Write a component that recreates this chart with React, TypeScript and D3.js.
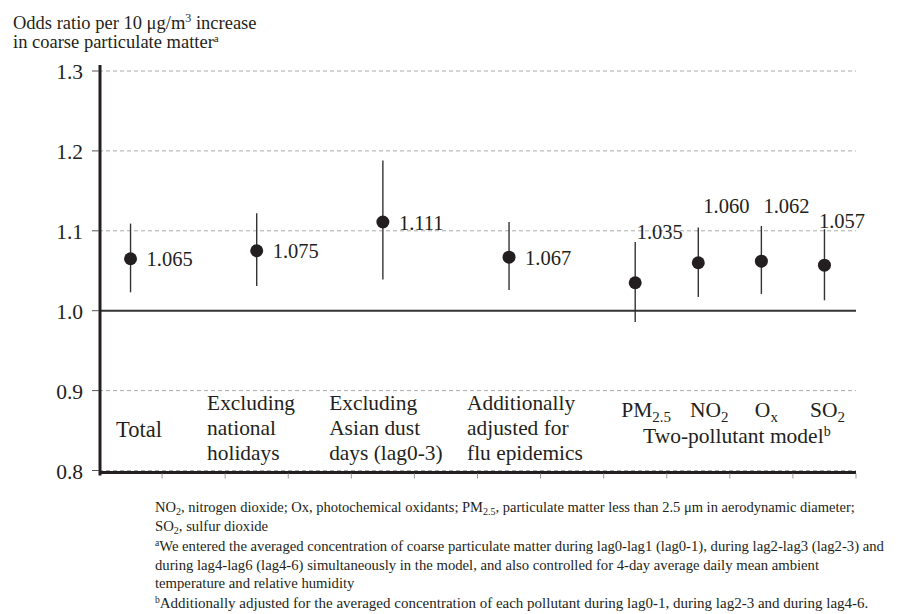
import React from 'react';
import * as d3 from 'd3';

// values
const categories = [
  'Total',
  'Excluding national holidays',
  'Excluding Asian dust days (lag0-3)',
  'Additionally adjusted for flu epidemics',
  'PM2.5',
  'NO2',
  'Ox',
  'SO2',
];
const oddsRatio = [1.065, 1.075, 1.111, 1.067, 1.035, 1.06, 1.062, 1.057];
const ciLower = [1.023, 1.031, 1.039, 1.026, 0.986, 1.017, 1.021, 1.013];
const ciUpper = [1.109, 1.122, 1.188, 1.111, 1.086, 1.104, 1.106, 1.102];
const valueLabels = ['1.065', '1.075', '1.111', '1.067', '1.035', '1.060', '1.062', '1.057'];
const yTicks = [0.8, 0.9, 1.0, 1.1, 1.2, 1.3];

// layout: which of the 12 slots each estimate sits in
const slotCount = 12;
const slotOf = [0, 2, 4, 6, 8, 9, 10, 11];
// value label offsets from the point
const labelOffset: [number, number][] = [
  [16, 7.5], [16, 7.5], [16, 7.5], [16, 7.5],
  [1.5, -43.5], [5, -49.5], [2, -48], [-5.5, -37],
];
// multi-line category labels (first four), left-aligned
const catLines = [
  ['Total'],
  ['Excluding', 'national', 'holidays'],
  ['Excluding', 'Asian dust', 'days (lag0-3)'],
  ['Additionally', 'adjusted for', 'flu epidemics'],
];
const catDx = [-14.5, -49.6, -53.7, -42];
const pollutants: [string, string][] = [['PM', '2.5'], ['NO', '2'], ['O', 'x'], ['SO', '2']];
const pollDx = [11, 11, 5, 3];

const FONT = '"Liberation Serif", "Times New Roman", serif';
const INK = '#231f20';

const App: React.FC = () => {
  const width = 897;
  const height = 614;
  const x0 = 99;
  const x1 = 856;

  const y = d3.scaleLinear().domain([0.8, 1.3]).range([470.5, 71]);
  const x = d3.scaleBand<number>()
    .domain(d3.range(slotCount))
    .range([x0, x1])
    .padding(0);
  const cx = (i: number) => (x(slotOf[i]) || 0) + x.bandwidth() / 2;
  const bounds = d3.range(1, slotCount + 1).map(k => x0 + k * x.bandwidth());

  return (
    <svg width={width} height={height}
      style={{ position: 'absolute', left: 0, top: 0, background: '#fff', fontFamily: FONT }}>
      {/* y title */}
      <text x={13} y={29} fontSize={18.5} fill={INK}>
        Odds ratio per 10 μg/m<tspan dy={-7} fontSize={12}>3</tspan><tspan dy={7}> increase</tspan>
      </text>
      <text x={13} y={48} fontSize={18.5} fill={INK}>
        in coarse particulate matter<tspan dy={-6} fontSize={11}>a</tspan>
      </text>

      {/* gridlines */}
      {yTicks.filter(t => t !== 1.0).map(t => (
        <line key={t} x1={x0} x2={x1} y1={y(t)} y2={y(t)}
          stroke="#aaa" strokeWidth={1} strokeDasharray="4,3" />
      ))}
      <line x1={x0} x2={x1} y1={y(1.0)} y2={y(1.0)} stroke="#333" strokeWidth={2} />
      <line x1={x0} x2={x1} y1={y(0.8) + 2} y2={y(0.8) + 2} stroke={INK} strokeWidth={3} />

      {/* bottom ticks */}
      {bounds.map((b, k) => (
        <line key={k} x1={b} x2={b} y1={y(0.8) + 3} y2={y(0.8) + 8} stroke="#999" strokeWidth={1} />
      ))}

      {/* y axis */}
      <line x1={x0 + 1} x2={x0 + 1} y1={y(1.3) - 6} y2={y(0.8) + 5} stroke={INK} strokeWidth={3} />
      {yTicks.map(t => (
        <g key={t}>
          <line x1={92} x2={x0} y1={y(t)} y2={y(t)} stroke="#555" strokeWidth={1} />
          <text x={83} y={y(t) + 8} fontSize={21.5} textAnchor="end" fill={INK}>{t.toFixed(1)}</text>
        </g>
      ))}

      {/* estimates with confidence intervals */}
      {categories.map((c, i) => (
        <g key={c}>
          <line x1={cx(i)} x2={cx(i)} y1={y(ciLower[i])} y2={y(ciUpper[i])}
            stroke="#333" strokeWidth={1.4} />
          <circle cx={cx(i)} cy={y(oddsRatio[i])} r={6.5} fill={INK} />
          <text x={cx(i) + labelOffset[i][0]} y={y(oddsRatio[i]) + labelOffset[i][1]}
            fontSize={20.5} fill={INK}>{valueLabels[i]}</text>
        </g>
      ))}

      {/* category labels */}
      {catLines.map((lines, i) => (
        <text key={i} x={cx(i) + catDx[i]} fontSize={lines.length === 1 ? 22.5 : 21.4} fill={INK}>
          {lines.map((l, j) => (
            <tspan key={j} x={cx(i) + catDx[i]}
              y={lines.length === 1 ? 437 : 409.5 + j * 25}>{l}</tspan>
          ))}
        </text>
      ))}
      {pollutants.map(([base, sub], k) => (
        <text key={base} x={cx(4 + k) + pollDx[k]} y={417} fontSize={21.5}
          textAnchor="middle" fill={INK}>
          {base}<tspan dy={5} fontSize={15}>{sub}</tspan>
        </text>
      ))}
      <text x={(x(8)! + x1) / 2 + 7} y={443} fontSize={21.5} textAnchor="middle" fill={INK}>
        Two-pollutant model<tspan dy={-7} fontSize={14}>b</tspan>
      </text>

      {/* footnotes */}
      <g fill={INK}>
        <text x={155} y={512} fontSize={14.5}>
          NO<tspan dy={3} fontSize={10}>2</tspan><tspan dy={-3}>, nitrogen dioxide; Ox, photochemical oxidants; PM</tspan><tspan dy={3} fontSize={10}>2.5</tspan><tspan dy={-3}>, particulate matter less than 2.5 μm in aerodynamic diameter;</tspan>
        </text>
        <text x={155} y={531} fontSize={14.7}>
          SO<tspan dy={3} fontSize={10}>2</tspan><tspan dy={-3}>, sulfur dioxide</tspan>
        </text>
        <text x={155} y={551} fontSize={14.7}>
          <tspan dy={-5} fontSize={9.5}>a</tspan><tspan dy={5}>We entered the averaged concentration of coarse particulate matter during lag0-lag1 (lag0-1), during lag2-lag3 (lag2-3) and</tspan>
        </text>
        <text x={155} y={570} fontSize={14.7}>
          during lag4-lag6 (lag4-6) simultaneously in the model, and also controlled for 4-day average daily mean ambient
        </text>
        <text x={155} y={588} fontSize={14.7}>temperature and relative humidity</text>
        <text x={155} y={608} fontSize={15}>
          <tspan dy={-5} fontSize={9.5}>b</tspan><tspan dy={5}>Additionally adjusted for the averaged concentration of each pollutant during lag0-1, during lag2-3 and during lag4-6.</tspan>
        </text>
      </g>
    </svg>
  );
};

export default App;
